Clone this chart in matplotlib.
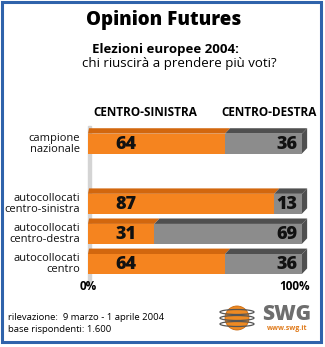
import matplotlib
matplotlib.use("Agg")
import matplotlib.pyplot as plt
from matplotlib.patches import Rectangle, Ellipse, Polygon

# dati
categorie = ["campione\nnazionale", "autocollocati\ncentro-sinistra",
             "autocollocati\ncentro-destra", "autocollocati\ncentro"]
posizioni = [0, 2, 3, 4]
centro_sinistra = [64, 87, 31, 64]
centro_destra = [36, 13, 69, 36]

ARANCIO = "#f5841f"
ARANCIO_SCURO = "#d2670e"
GRIGIO = "#8c8c8c"
GRIGIO_SCURO = "#4f4f4f"
BLU = "#2f63ab"

plt.rcParams["font.family"] = ["Open Sans", "DejaVu Sans"]

W, H = 325, 347
fig = plt.figure(figsize=(W / 100, H / 100), dpi=100)


def px(x, y):
    # pixel (dall'alto) -> coordinate figura
    return x / W, 1 - y / H


# cornice blu
fig.patches.append(Rectangle(px(2, 342), 319 / W, 340 / H, transform=fig.transFigure,
                             fill=False, edgecolor=BLU, linewidth=2.2))

# titoli
fig.text(*px(164, 20), "Opinion Futures", ha="center", va="center",
         fontsize=13.5, fontweight="heavy")
fig.text(*px(165, 50), "Elezioni europee 2004:", ha="center", va="center",
         fontsize=9.5, fontweight="bold")
fig.text(*px(179, 64), "chi riuscirà a prendere più voti?", ha="center", va="center",
         fontsize=9.5)
fig.text(*px(145, 112), "CENTRO-SINISTRA", ha="center", va="center",
         fontsize=8.5, fontweight="bold")
fig.text(*px(269, 112), "CENTRO-DESTRA", ha="center", va="center",
         fontsize=8.5, fontweight="bold")

# assi: x 0..100 -> px 88..302
top_px, bot_px = 119.5, 288
ax = fig.add_axes([88 / W, 1 - bot_px / H, 214 / W, (bot_px - top_px) / H])
ax.set_xlim(0, 100)
ax.set_ylim(4.8, -0.8)
ax.axis("off")

h = 0.66
dx, dy = 2.4, 0.18

# parete grigia
ax.add_patch(Rectangle((0, -0.6), 1.4, 5.3, color="#d4d4d4", zorder=0))

for y, a, b in zip(posizioni, centro_sinistra, centro_destra):
    y0 = y - h / 2
    y1 = y + h / 2
    ax.barh(y, a, height=h, color=ARANCIO, zorder=2)
    ax.barh(y, b, left=a, height=h, color=GRIGIO, zorder=2)
    # faccia superiore
    ax.add_patch(Polygon([(0, y0), (a, y0), (a + dx, y0 - dy), (dx * 0.2, y0 - dy)],
                         closed=True, color=ARANCIO_SCURO, zorder=2, lw=0))
    ax.add_patch(Polygon([(a, y0), (100, y0), (100 + dx, y0 - dy), (a + dx, y0 - dy)],
                         closed=True, color=GRIGIO_SCURO, zorder=2, lw=0))
    # faccia laterale
    ax.add_patch(Polygon([(100, y0), (100 + dx, y0 - dy), (100 + dx, y1 - dy), (100, y1)],
                         closed=True, color=GRIGIO_SCURO, zorder=2, lw=0))
    ax.text(17.5, y + 0.02, str(a), ha="center", va="center",
            fontsize=13, fontweight="heavy", color="#111111", zorder=3)
    ax.text(98, y + 0.02, str(b), ha="right", va="center",
            fontsize=13, fontweight="heavy", color="#111111", zorder=3)

for y, c in zip(posizioni, categorie):
    ax.text(-3.8, y, c, ha="right", va="center", fontsize=8,
            linespacing=1.0, color="#111111")

for p in ax.patches:
    p.set_clip_on(False)

fig.text(*px(88, 287), "0%", ha="center", va="center", fontsize=8.5, fontweight="bold")
fig.text(*px(310, 287), "100%", ha="right", va="center", fontsize=8.5, fontweight="bold")

fig.text(*px(8, 318), "rilevazione:  9 marzo - 1 aprile 2004", ha="left", va="center",
         fontsize=6.8)
fig.text(*px(8, 330), "base rispondenti: 1.600", ha="left", va="center", fontsize=6.8)

# logo SWG
lx, ly = px(237, 318)
fig.patches.append(Ellipse((lx, ly), 24 / W, 24 / H, transform=fig.transFigure,
                           facecolor="#ef8a22", edgecolor="#c76a12", lw=0.6))
for dyy in (-6, 0, 6):
    fig.patches.append(Ellipse(px(237, 318 + dyy), 34 / W, 5 / H, transform=fig.transFigure,
                               fill=False, edgecolor="#555555", lw=0.9))
fig.text(*px(287, 314), "SWG", ha="center", va="center", fontsize=15,
         fontweight="heavy", color="#6e6e6e")
fig.text(*px(287, 329), "www.swg.it", ha="center", va="center", fontsize=5,
         fontweight="bold", color="#e07a1a")

fig.savefig("out.png", dpi=100, facecolor="white")
